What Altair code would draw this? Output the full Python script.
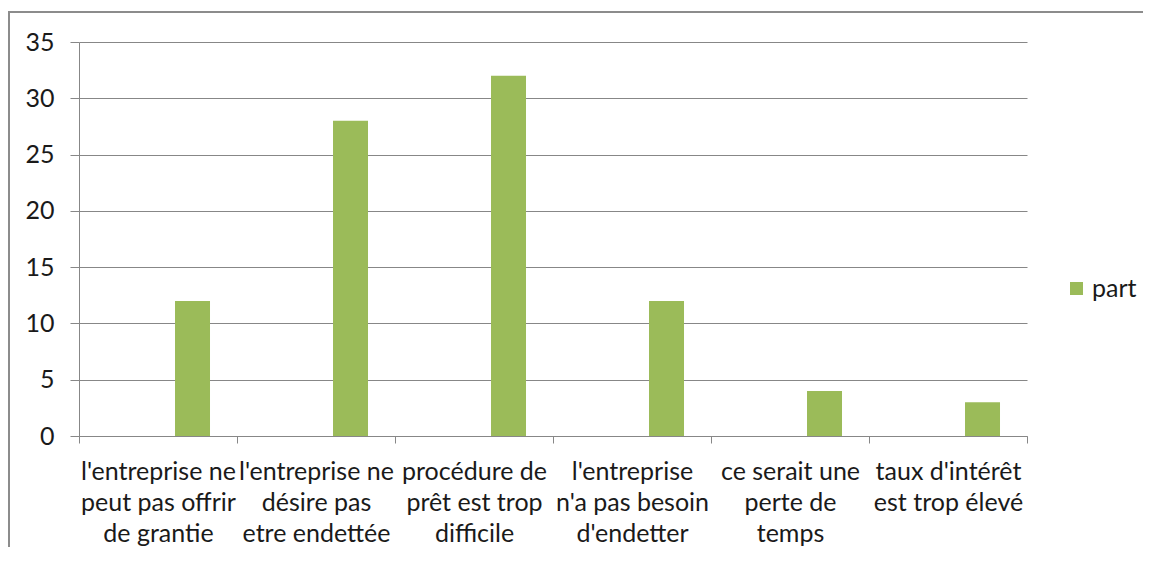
import json
import altair as alt
import pandas as pd

categories = [
    "l'entreprise ne peut pas offrir de grantie",
    "l'entreprise ne désire pas etre endettée",
    "procédure de prêt est trop difficile",
    "l'entreprise n'a pas besoin d'endetter",
    "ce serait une perte de temps",
    "taux d'intérêt est trop élevé",
]
label_lines = [
    ["l'entreprise ne", "peut pas offrir", "de grantie"],
    ["l'entreprise ne", "désire pas", "etre endettée"],
    ["procédure de", "prêt est trop", "difficile"],
    ["l'entreprise", "n'a pas besoin", "d'endetter"],
    ["ce serait une", "perte de", "temps"],
    ["taux d'intérêt", "est trop élevé"],
]
values = [12, 28, 32, 12, 4, 3]
series_name = "part"
y_ticks = [0, 5, 10, 15, 20, 25, 30, 35]

df = pd.DataFrame({"cat": categories, "value": values, "series": [series_name] * len(values)})

mapping = {c: l for c, l in zip(categories, label_lines)}
label_expr = json.dumps(mapping, ensure_ascii=False) + "[datum.value]"

FONT = "Lato"
FS = 25
GRAY = "#878787"
TXT = "#1a1a1a"

bars = alt.Chart(df).mark_bar(color="#9BBB59").encode(
    x=alt.X(
        "cat:N",
        sort=categories,
        scale=alt.Scale(paddingInner=0, paddingOuter=0),
        axis=alt.Axis(
            title=None,
            labelExpr=label_expr,
            labelAngle=0,
            labelAlign="center",
            labelBaseline="top",
            labelFont=FONT,
            labelFontSize=FS,
            labelLineHeight=31,
            labelColor=TXT,
            labelPadding=16,
            labelOverlap=False,
            labelLimit=300,
            tickBand="extent",
            tickSize=7,
            tickColor=GRAY,
            domainColor=GRAY,
            grid=False,
        ),
    ),
    xOffset=alt.XOffset(
        "series:N",
        scale=alt.Scale(domain=["blank", series_name], paddingInner=0.493, paddingOuter=0.391),
    ),
    y=alt.Y(
        "value:Q",
        scale=alt.Scale(domain=[0, 35], nice=False),
        axis=alt.Axis(
            title=None,
            values=y_ticks,
            labelFont=FONT,
            labelFontSize=FS,
            labelColor=TXT,
            labelPadding=16,
            tickSize=9,
            tickColor=GRAY,
            domainColor=GRAY,
            gridColor=GRAY,
            grid=True,
        ),
    ),
    color=alt.Color(
        "series:N",
        scale=alt.Scale(domain=[series_name], range=["#9BBB59"]),
        legend=alt.Legend(
            title=None,
            orient="none",
            legendX=985,
            legendY=234,
            symbolType="square",
            symbolSize=170,
            symbolStrokeWidth=0,
            labelFont=FONT,
            labelFontSize=FS,
            labelColor=TXT,
            labelOffset=3,
        ),
    ),
)

border_df = pd.DataFrame({"k": [0]})
border = alt.Chart(border_df).mark_rect(
    fill="transparent", stroke="#8c8c8c", strokeWidth=2
).encode(
    x=alt.value(-70), x2=alt.value(1120), y=alt.value(-30), y2=alt.value(700)
)

chart = alt.layer(border, bars).properties(
    width=948,
    height=394,
    autosize=alt.AutoSizeParams(type="none"),
    padding={"left": 71, "top": 34, "right": 116, "bottom": 111},
).configure_view(stroke=None)

chart.save("out.html", embed_options={"renderer": "svg", "actions": False})
